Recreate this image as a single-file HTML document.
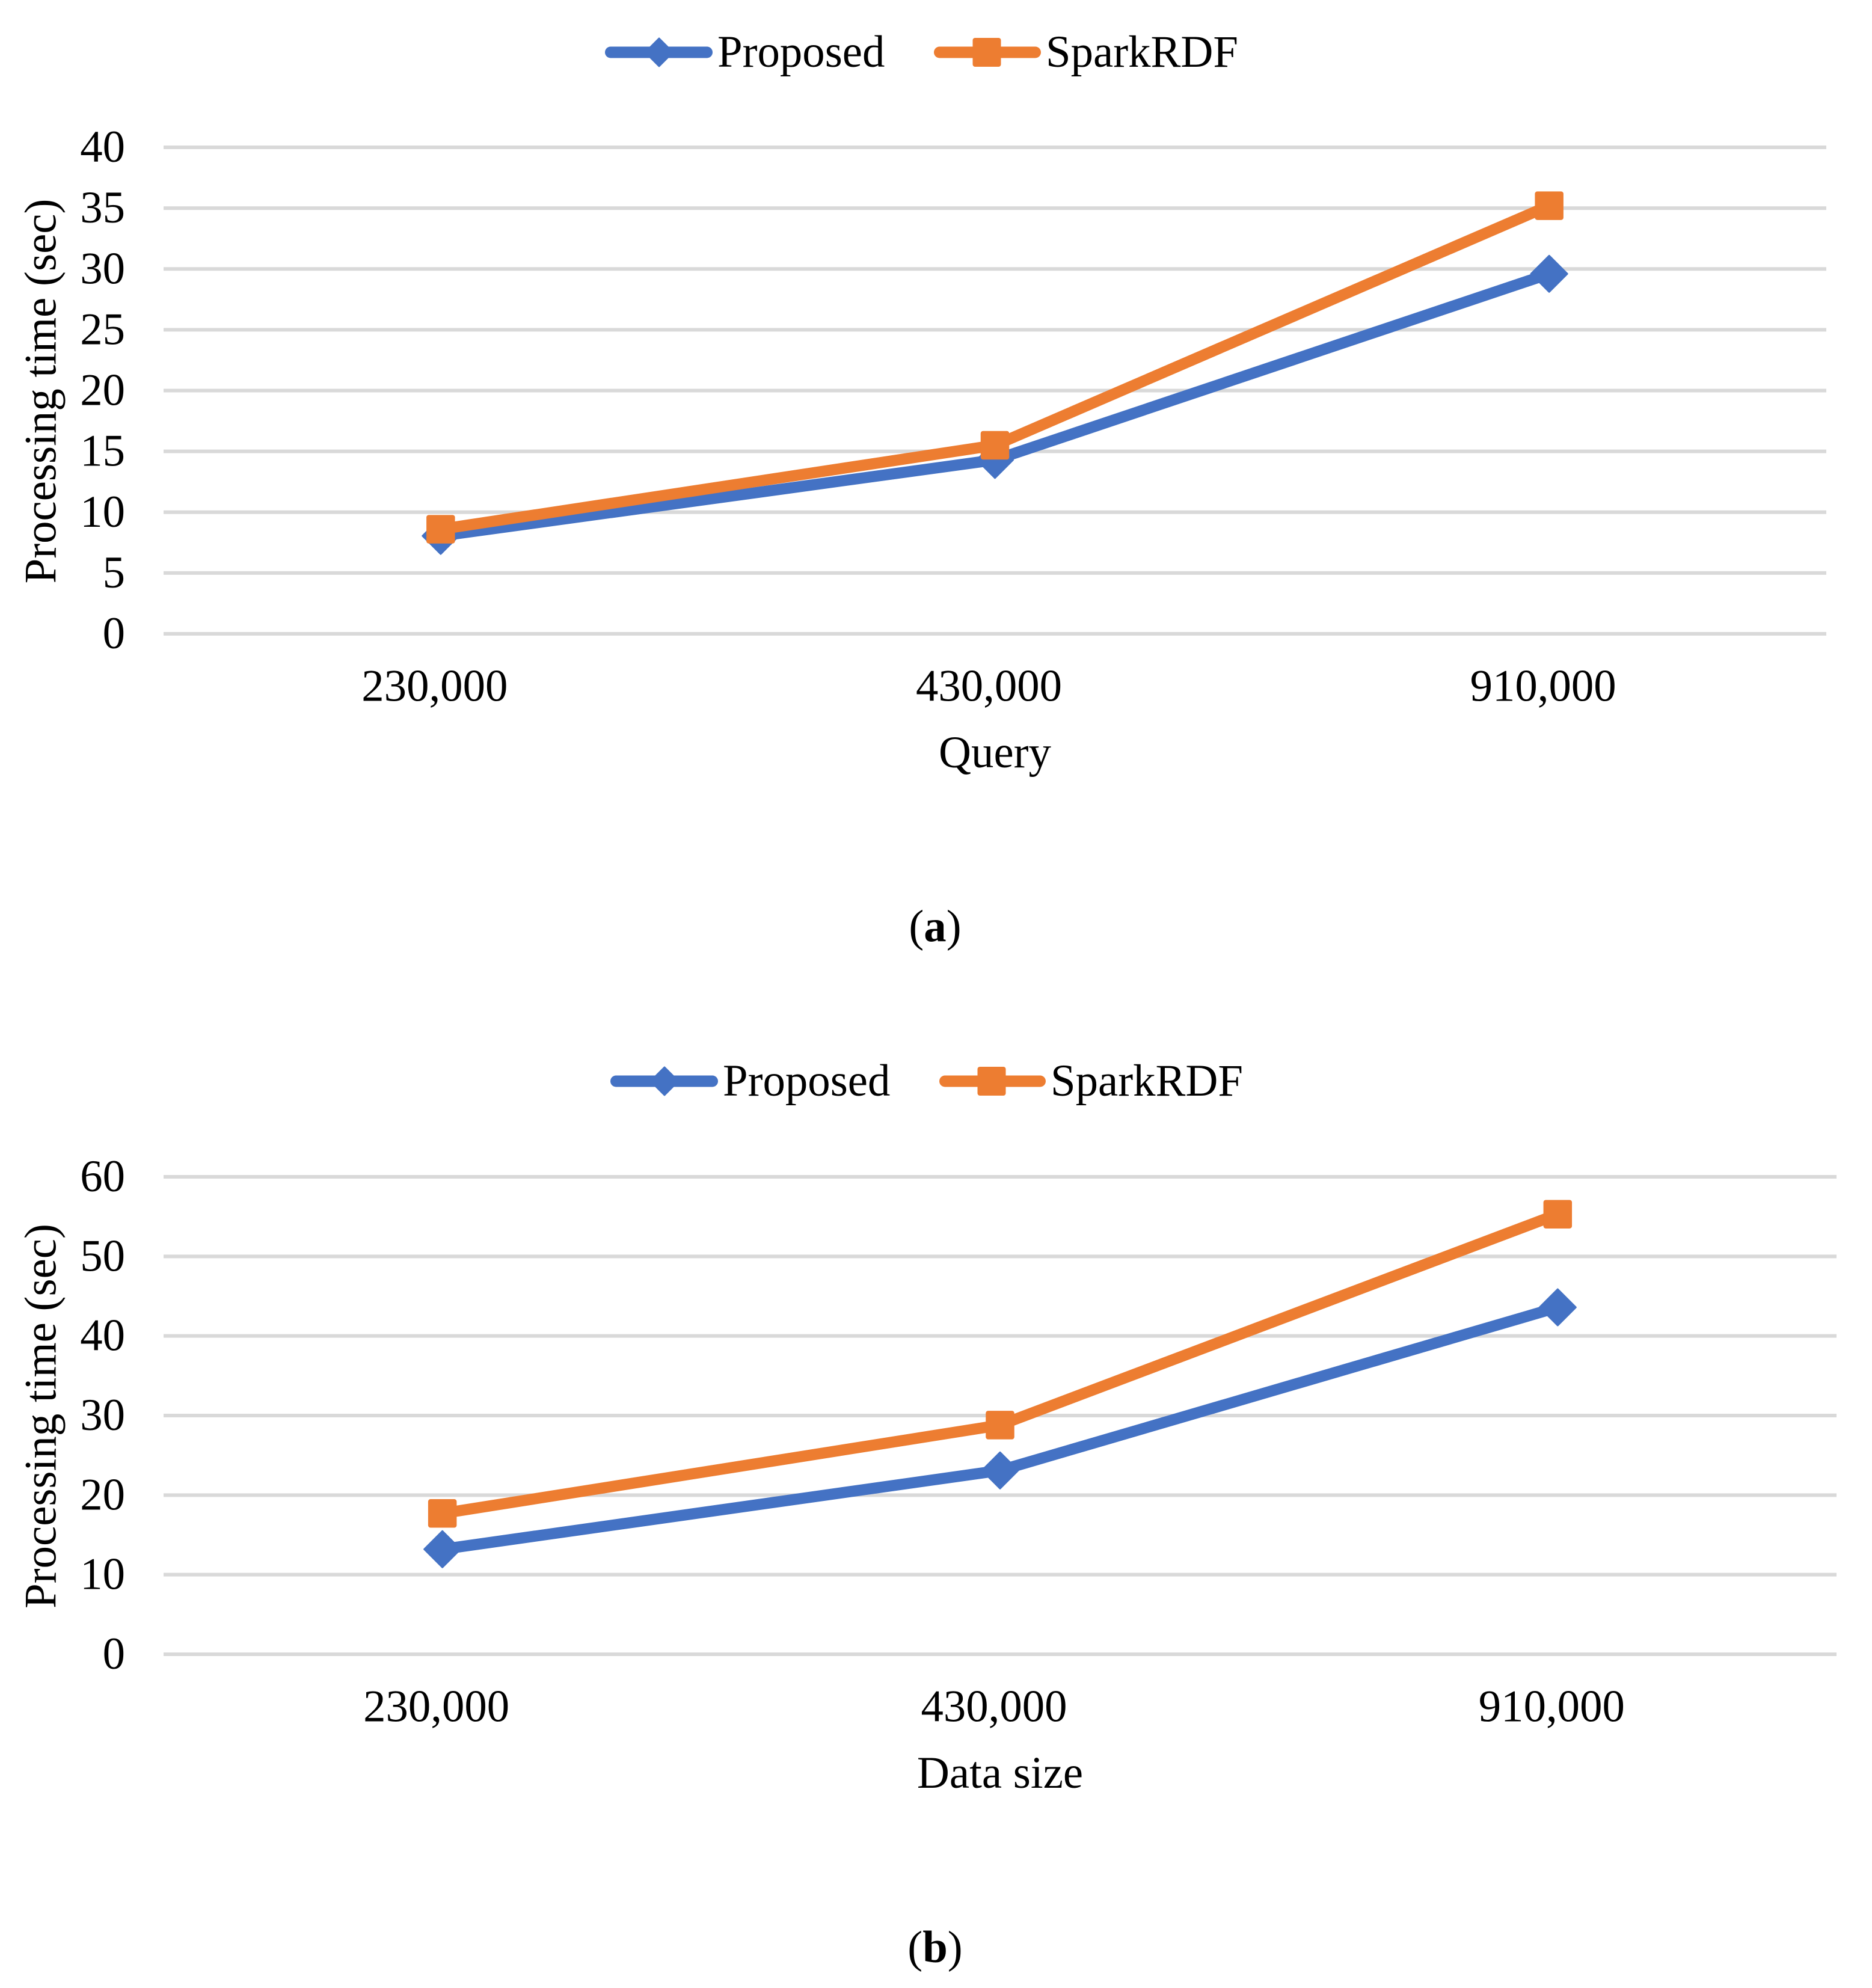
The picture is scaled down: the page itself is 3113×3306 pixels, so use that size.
<!DOCTYPE html>
<html lang="en">
<head>
<meta charset="utf-8">
<title>Processing time comparison</title>
<style>
  html, body { margin: 0; padding: 0; background: #ffffff; }
  svg { display: block; }
  text { font-family: "Liberation Serif", "Times New Roman", serif; font-size: 74.8px; fill: #000000; }
  .caption-letter { font-weight: bold; }
</style>
</head>
<body>
<svg id="figure" xmlns="http://www.w3.org/2000/svg" width="3113" height="3306" viewBox="0 0 3113 3306">
  <rect x="0" y="0" width="3113" height="3306" fill="#ffffff"/>

  <g>
    <g>
      <line x1="1015.5" y1="87" x2="1175.5" y2="87" stroke="#4472c4" stroke-width="19" stroke-linecap="round"/>
      <polygon points="1096,64 1119,87 1096,110 1073,87" fill="#4472c4" stroke="#4472c4" stroke-width="3" stroke-linejoin="round"/>
      <text x="1193" y="111">Proposed</text>
    </g>
    <g>
      <line x1="1562.5" y1="87" x2="1721.5" y2="87" stroke="#ed7d31" stroke-width="19" stroke-linecap="round"/>
      <rect x="1617.5" y="63" width="47" height="48" rx="4" fill="#ed7d31"/>
      <text x="1739" y="111">SparkRDF</text>
    </g>
  </g>

  <g>
    <g>
      <line x1="1024.5" y1="1798" x2="1184.5" y2="1798" stroke="#4472c4" stroke-width="19" stroke-linecap="round"/>
      <polygon points="1105,1775 1128,1798 1105,1821 1082,1798" fill="#4472c4" stroke="#4472c4" stroke-width="3" stroke-linejoin="round"/>
      <text x="1202" y="1822">Proposed</text>
    </g>
    <g>
      <line x1="1571.5" y1="1798" x2="1729.5" y2="1798" stroke="#ed7d31" stroke-width="19" stroke-linecap="round"/>
      <rect x="1625.5" y="1774" width="47" height="48" rx="4" fill="#ed7d31"/>
      <text x="1747" y="1822">SparkRDF</text>
    </g>
  </g>

  <text x="1555" y="1565" text-anchor="middle">(<tspan class="caption-letter">a</tspan>)</text>
  <text x="1555" y="3263" text-anchor="middle">(<tspan class="caption-letter">b</tspan>)</text>
</svg>

<script>
const categories = ["230,000", "430,000", "910,000"];

const proposedA = [8.05, 14.3, 29.6];
const sparkA = [8.6, 15.5, 35.2];
const ticksA = [0, 5, 10, 15, 20, 25, 30, 35, 40];
const xTitleA = "Query";

const proposedB = [13.2, 23.1, 43.6];
const sparkB = [17.7, 28.8, 55.3];
const ticksB = [0, 10, 20, 30, 40, 50, 60];
const xTitleB = "Data size";

const yTitle = "Processing time (sec)";

const NS = "http://www.w3.org/2000/svg";
const figure = document.getElementById("figure");

function make(tag, attrs, parent) {
  const el = document.createElementNS(NS, tag);
  for (const k in attrs) el.setAttribute(k, attrs[k]);
  parent.appendChild(el);
  return el;
}

function drawChart(id, frame, blue, orange, ticks, xTitle) {
  const maxTick = ticks[ticks.length - 1];
  const band = (frame.right - frame.left) / categories.length;
  const xScale = function (i) { return frame.left + (i + 0.5) * band; };
  const yScale = function (v) { return frame.bottom - (v / maxTick) * (frame.bottom - frame.top); };

  const g = make("g", {}, figure);
  
  

  ticks.forEach(function (t) {
    const line = make("line", { x1: frame.left, x2: frame.right, y1: yScale(t), y2: yScale(t), stroke: "#d9d9d9", "stroke-width": 6 }, g);
    
    
    const label = make("text", { x: 208, y: yScale(t) + 24, "text-anchor": "end" }, g);
    
    
    label.textContent = t;
  });

  categories.forEach(function (c, i) {
    const label = make("text", { x: xScale(i) - 10, y: frame.bottom + 111.6, "text-anchor": "middle" }, g);
    
    
    label.textContent = c;
  });

  const xt = make("text", { x: xScale(1), y: frame.bottom + 222, "text-anchor": "middle" }, g);
  
  
  xt.textContent = xTitle;

  const cy = (frame.top + frame.bottom) / 2 + 1;
  const yt = make("text", { x: 92.5, y: cy, "text-anchor": "middle", transform: "rotate(-90 92.5 " + cy + ")" }, g);
  
  
  yt.textContent = yTitle;

  const toPoints = function (vals) {
    return vals.map(function (v, i) { return xScale(i) + "," + yScale(v); }).join(" ");
  };

  const blueLine = make("polyline", { points: toPoints(blue), fill: "none", stroke: "#4472c4", "stroke-width": 18.5, "stroke-linejoin": "round", "stroke-linecap": "round" }, g);
  
  
  blue.forEach(function (v, i) {
    const x = xScale(i), y = yScale(v), h = 30;
    const m = make("polygon", {
      points: x + "," + (y - h) + " " + (x + h) + "," + y + " " + x + "," + (y + h) + " " + (x - h) + "," + y,
      fill: "#4472c4", stroke: "#4472c4", "stroke-width": 3, "stroke-linejoin": "round"
    }, g);
    
    
  });

  const orangeLine = make("polyline", { points: toPoints(orange), fill: "none", stroke: "#ed7d31", "stroke-width": 18.5, "stroke-linejoin": "round", "stroke-linecap": "round" }, g);
  
  
  orange.forEach(function (v, i) {
    const s = 47.5;
    const m = make("rect", { x: xScale(i) - s / 2, y: yScale(v) - s / 2, width: s, height: s, rx: 4, fill: "#ed7d31" }, g);
    
    
  });
}

drawChart("a", { left: 272, right: 3037, top: 245, bottom: 1054 }, proposedA, sparkA, ticksA, xTitleA);
drawChart("b", { left: 272, right: 3054, top: 1957, bottom: 2751 }, proposedB, sparkB, ticksB, xTitleB);
</script>
</body>
</html>
